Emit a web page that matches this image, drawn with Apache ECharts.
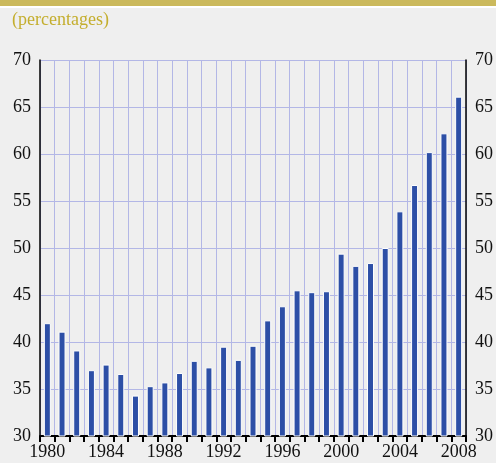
<!DOCTYPE html>
<html>
<head>
<meta charset="utf-8">
<script src="https://cdn.jsdelivr.net/npm/echarts@6/dist/echarts.min.js"></script>
<style>
  html, body { margin: 0; padding: 0; background: #efefef; }
  #chart { width: 496px; height: 463px; }
</style>
</head>
<body>
<div id="chart"></div>
<script>
// years on the x axis
const years = [];
for (let y = 1980; y <= 2008; y++) years.push(String(y));

// share, percentages
const shares = [42.0, 41.1, 39.1, 37.0, 37.6, 36.6, 34.3, 35.3, 35.7, 36.7,
  38.0, 37.3, 39.5, 38.1, 39.6, 42.3, 43.8, 45.5, 45.3, 45.4,
  49.4, 48.1, 48.4, 50.0, 53.9, 56.7, 60.2, 62.2, 66.1];

const unitLabel = '(percentages)';

const chart = echarts.init(document.getElementById('chart'));

const font = 'Liberation Serif';
const yAxisBase = {
  type: 'value',
  min: 30,
  max: 70,
  interval: 5,
  axisLine: { show: true, lineStyle: { color: '#000', width: 1.5 } },
  axisTick: { show: false },
  axisLabel: { color: '#111', fontFamily: font, fontSize: 18, margin: 9 },
};

chart.setOption({
  backgroundColor: '#efefef',
  animation: false,
  graphic: [
    { type: 'rect', left: 0, top: 0, shape: { width: 496, height: 6 }, style: { fill: '#cbb95c' } },
    { type: 'rect', left: 0, top: 6, shape: { width: 496, height: 2 }, style: { fill: '#ffffff' } },
    { type: 'text', left: 12, top: 11, style: { text: unitLabel, fill: '#c4ae2e', font: '18px "Liberation Serif"' } }
  ],
  grid: { left: 40, right: 27, top: 60, bottom: 27 },
  xAxis: {
    type: 'category',
    data: years,
    boundaryGap: true,
    axisLine: { show: true, lineStyle: { color: '#000', width: 2 } },
    axisTick: { show: true, interval: 0, length: 6, lineStyle: { color: '#000', width: 2 } },
    axisLabel: {
      interval: 3,
      color: '#111',
      fontFamily: font,
      fontSize: 18,
      margin: 7
    },
    splitLine: { show: true, interval: 0, lineStyle: { color: '#b3b7e6', width: 1 } }
  },
  yAxis: [
    Object.assign({}, yAxisBase, {
      position: 'left',
      splitLine: { show: true, lineStyle: { color: '#b3b7e6', width: 1 } }
    }),
    Object.assign({}, yAxisBase, {
      position: 'right',
      splitLine: { show: false }
    })
  ],
  series: [{
    type: 'bar',
    data: shares,
    barWidth: 7,
    itemStyle: { color: '#2d4fa6', borderColor: '#ffffff', borderWidth: 1 }
  }]
});
</script>
</body>
</html>
